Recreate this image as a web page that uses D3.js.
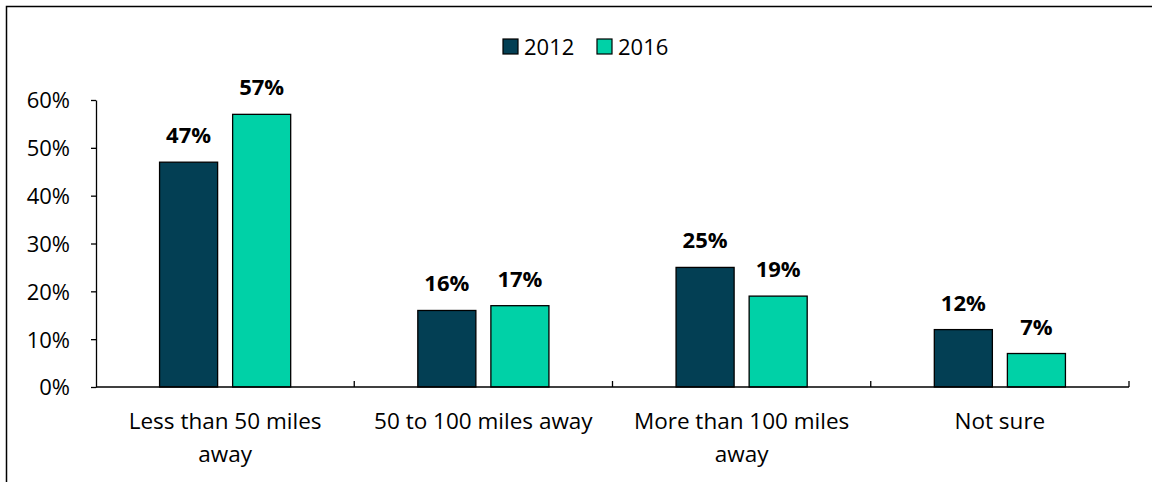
<!DOCTYPE html>
<html><head><meta charset="utf-8">
<script src="https://cdn.jsdelivr.net/npm/d3@7"></script>
<style>body{margin:0;background:#fff}svg{display:block;font-family:"Open Sans",sans-serif}</style>
</head><body><svg id="c" width="1152" height="482"></svg>
<script>
const categories = [["Less than 50 miles","away"],["50 to 100 miles away"],["More than 100 miles","away"],["Not sure"]];
const seriesNames = ["2012","2016"];
const values2012 = [47,16,25,12];
const values2016 = [57,17,19,7];
const yTicks = [0,10,20,30,40,50,60];
const colors = ["#033F54","#00D1A7"];

(function(){
const FS = 22;
const svg = d3.select("#c");
svg.append("rect").attr("x",6.5).attr("y",6.5).attr("width",1160).attr("height",500)
  .attr("fill","none").attr("stroke","#000").attr("stroke-width",1.5);

const mL=96, mR=1129, mT=100, mB=387;
const y = d3.scaleLinear().domain([0,60]).range([mB,mT]);
const x0 = d3.scaleBand().domain(d3.range(categories.length)).range([mL,mR]);
const x1 = d3.scaleBand().domain(seriesNames).range([0,x0.bandwidth()]).paddingInner(0.2055).paddingOuter(0.87);

const data = categories.map((c,i)=>({i, vals:[values2012[i],values2016[i]]}));

const g = svg.append("g");
data.forEach(d=>{
  d.vals.forEach((v,j)=>{
    const bx = x0(d.i)+x1(seriesNames[j]);
    g.append("rect").attr("x",bx).attr("y",y(v)).attr("width",x1.bandwidth()).attr("height",y(0)-y(v))
      .attr("fill",colors[j]).attr("stroke","#000").attr("stroke-width",1.3);
    g.append("text").attr("x",bx+x1.bandwidth()/2).attr("y",y(v)-19).attr("text-anchor","middle")
      .attr("font-size",FS).attr("font-weight","bold").attr("fill","#000").text(v+"%");
  });
});

const ya = svg.append("g").attr("transform",`translate(${mL},0)`)
  .call(d3.axisLeft(y).tickValues(yTicks).tickFormat(d=>d+"%").tickSize(5).tickSizeOuter(0));
ya.select(".domain").attr("stroke","#000").attr("stroke-width",1.3);
ya.selectAll(".tick line").attr("stroke","#000").attr("stroke-width",1.3);
ya.selectAll(".tick text").attr("x",-26).attr("dy","0.36em").attr("font-size",FS).attr("fill","#000").attr("font-family","Open Sans");

svg.append("line").attr("x1",mL).attr("x2",mR).attr("y1",mB).attr("y2",mB).attr("stroke","#000").attr("stroke-width",1.3);
d3.range(1,categories.length+1).forEach(k=>{
  const xx = k<categories.length ? x0(k) : mR;
  svg.append("line").attr("x1",xx).attr("x2",xx).attr("y1",mB).attr("y2",mB-6).attr("stroke","#000").attr("stroke-width",1.3);
});
categories.forEach((c,i)=>{
  const t = svg.append("text").attr("text-anchor","middle").attr("font-size",22.5).attr("fill","#000");
  c.forEach((line,k)=>{
    t.append("tspan").attr("x",x0(i)+x0.bandwidth()/2).attr("y",429+k*33).text(line);
  });
});

const leg = svg.append("g");
const legX=[503,597];
seriesNames.forEach((s,j)=>{
  leg.append("rect").attr("x",legX[j]).attr("y",39).attr("width",15).attr("height",15)
    .attr("fill",colors[j]).attr("stroke","#000").attr("stroke-width",1.2);
  leg.append("text").attr("x",legX[j]+21).attr("y",55).attr("font-size",FS).attr("fill","#000").text(s);
});
})();
</script></body></html>
